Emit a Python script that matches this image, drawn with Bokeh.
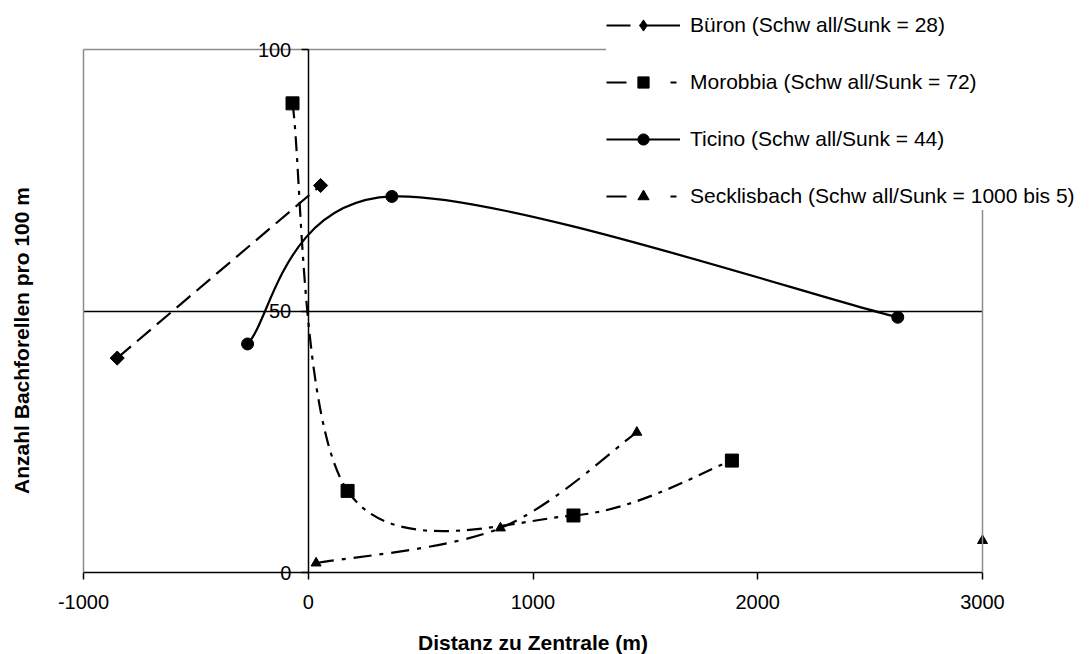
import math
from bokeh.plotting import figure
from bokeh.models import (LinearAxis, FixedTicker, Legend, LegendItem, Range1d,
                          ColumnDataSource, Label)
from bokeh.embed import file_html
from bokeh.resources import INLINE

# ---- data ----
x_ticks = [-1000, 0, 1000, 2000, 3000]
y_ticks = [0, 50, 100]

bueron_x = [-850, 55]
bueron_y = [41.0, 74.0]

morobbia_x = [-70, 175, 1180, 1885]
morobbia_y = [89.7, 15.6, 10.9, 21.4]

ticino_x = [-270, 372, 2623]
ticino_y = [43.7, 71.9, 48.8]

seck_x = [35, 855, 1462]
seck_y = [1.8, 8.5, 26.8]
seck_extra_x = [3000]
seck_extra_y = [6.1]

series_labels = [
    "Büron (Schw all/Sunk = 28)",
    "Morobbia (Schw all/Sunk = 72)",
    "Ticino (Schw all/Sunk = 44)",
    "Secklisbach (Schw all/Sunk = 1000 bis 5)",
]
x_title = "Distanz zu Zentrale (m)"
y_title = "Anzahl Bachforellen pro 100 m"

FONT = "Liberation Sans"
NAN = float("nan")

# ---- layout (pixels) ----
W, H = 1090, 654
AX_LEFT_PX, AX_RIGHT_PX = 83, 982      # x = -1000 .. 3000
AX_BOTTOM_PX, AX_TOP_PX = 572, 49      # y = 0 .. 100
sx_per = (AX_RIGHT_PX - AX_LEFT_PX) / (x_ticks[-1] - x_ticks[0])
sy_per = (AX_BOTTOM_PX - AX_TOP_PX) / (y_ticks[-1] - y_ticks[0])


def dx(px):
    return x_ticks[0] + (px - AX_LEFT_PX) / sx_per


def dy(py):
    return y_ticks[0] + (AX_BOTTOM_PX - py) / sy_per


def smooth_source(xs, ys):
    """Bezier control points (Excel-like smoothed line) built from the data points."""
    pts = list(zip(xs, ys))
    n = len(pts)
    d = dict(x0=[], y0=[], x1=[], y1=[], cx0=[], cy0=[], cx1=[], cy1=[])
    for i in range(n - 1):
        p0 = pts[i - 1] if i > 0 else pts[i]
        p1 = pts[i]
        p2 = pts[i + 1]
        p3 = pts[i + 2] if i + 2 < n else pts[i + 1]
        d["x0"].append(p1[0]); d["y0"].append(p1[1])
        d["x1"].append(p2[0]); d["y1"].append(p2[1])
        d["cx0"].append(p1[0] + (p2[0] - p0[0]) / 6.0)
        d["cy0"].append(p1[1] + (p2[1] - p0[1]) / 6.0)
        d["cx1"].append(p2[0] - (p3[0] - p1[0]) / 6.0)
        d["cy1"].append(p2[1] - (p3[1] - p1[1]) / 6.0)
    return ColumnDataSource(d)


p = figure(
    width=W, height=H,
    min_border_left=0, min_border_right=0, min_border_top=0, min_border_bottom=0,
    x_range=Range1d(dx(0), dx(W)), y_range=Range1d(dy(H), dy(0)),
    x_axis_location=None, y_axis_location=None,
    output_backend="svg", toolbar_location=None,
)
p.background_fill_color = "white"
p.border_fill_color = "white"
p.outline_line_color = None
p.xgrid.visible = False
p.ygrid.visible = False

xb = (x_ticks[0], x_ticks[-1])
yb = (y_ticks[0], y_ticks[-1])


def plain_line_axis(loc, bounds, color, width):
    return LinearAxis(
        fixed_location=loc, bounds=bounds, ticker=FixedTicker(ticks=[]),
        major_label_text_font_size="0px", major_tick_line_color=None,
        minor_tick_line_color=None, axis_line_color=color, axis_line_width=width,
    )


# chart frame (grey) and the 50 line (black)
p.add_layout(plain_line_axis(y_ticks[-1], xb, "#8c8c8c", 1.5), "above")
p.add_layout(plain_line_axis(x_ticks[0], yb, "#8c8c8c", 1.5), "left")
p.add_layout(plain_line_axis(x_ticks[-1], yb, "#8c8c8c", 1.5), "right")
p.add_layout(plain_line_axis(50, xb, "black", 1.5), "below")

# x axis along y = 0
xa = LinearAxis(
    fixed_location=0, bounds=xb, ticker=FixedTicker(ticks=x_ticks),
    major_label_overrides={t: str(t) for t in x_ticks},
    major_label_text_font=FONT, major_label_text_font_size="20px",
    major_label_text_color="black", major_label_standoff=15,
    major_tick_in=0, major_tick_out=7, major_tick_line_color="black", major_tick_line_width=1.5,
    minor_tick_line_color=None, axis_line_color="black", axis_line_width=1.5,
)
p.add_layout(xa, "below")

# y axis along x = 0
ya = LinearAxis(
    fixed_location=0, bounds=yb, ticker=FixedTicker(ticks=y_ticks),
    major_label_text_font=FONT, major_label_text_font_size="20px",
    major_label_text_color="black", major_label_standoff=10,
    major_tick_in=0, major_tick_out=7, major_tick_line_color="black", major_tick_line_width=1.5,
    minor_tick_line_color=None, axis_line_color="black", axis_line_width=1.5,
)
p.add_layout(ya, "left")

# axis titles
p.add_layout(Label(x=(x_ticks[0] + x_ticks[-1]) / 2, y=dy(642), text=x_title,
                   text_font=FONT, text_font_style="bold", text_font_size="21px",
                   text_color="black", text_align="center", text_baseline="middle"))
p.add_layout(Label(x=dx(21), y=dy(340), text=y_title, angle=math.pi / 2,
                   text_font=FONT, text_font_style="bold", text_font_size="21px",
                   text_color="black", text_align="center", text_baseline="middle"))

LW = 2.2

# Büron
p.line(bueron_x, bueron_y, line_color="black", line_width=LW, line_dash="18 8")
p.scatter(bueron_x, bueron_y, marker="square", angle=math.pi / 4, size=10, color="black")
b_leg = p.line([NAN], [NAN], line_color="black", line_width=LW, line_dash="24 9 41 20")
b_leg_pt = p.scatter([NAN], [NAN], marker="diamond", size=14, color="black")

# Morobbia
p.bezier(x0="x0", y0="y0", x1="x1", y1="y1", cx0="cx0", cy0="cy0", cx1="cx1", cy1="cy1",
         source=smooth_source(morobbia_x, morobbia_y), line_color="black", line_width=LW,
         line_dash="15 7 4 7")
m_leg = p.line([NAN], [NAN], line_color="black", line_width=LW, line_dash="20 44 6 10")
m_pts = p.scatter(morobbia_x, morobbia_y, marker="square", size=13, color="black")

# Ticino
p.bezier(x0="x0", y0="y0", x1="x1", y1="y1", cx0="cx0", cy0="cy0", cx1="cx1", cy1="cy1",
         source=smooth_source(ticino_x, ticino_y), line_color="black", line_width=LW)
t_leg = p.line([NAN], [NAN], line_color="black", line_width=LW)
t_pts = p.scatter(ticino_x, ticino_y, marker="circle", size=12, color="black")

# Secklisbach
p.bezier(x0="x0", y0="y0", x1="x1", y1="y1", cx0="cx0", cy0="cy0", cx1="cx1", cy1="cy1",
         source=smooth_source(seck_x, seck_y), line_color="black", line_width=LW,
         line_dash="18 8 4 8")
s_leg = p.line([NAN], [NAN], line_color="black", line_width=LW, line_dash="20 44 6 10")
s_pts = p.scatter(seck_x, seck_y, marker="triangle", size=10, color="black")
p.scatter(seck_extra_x, seck_extra_y, marker="triangle", size=10, color="black")

legend = Legend(
    items=[
        LegendItem(label=series_labels[0], renderers=[b_leg, b_leg_pt]),
        LegendItem(label=series_labels[1], renderers=[m_leg, m_pts]),
        LegendItem(label=series_labels[2], renderers=[t_leg, t_pts]),
        LegendItem(label=series_labels[3], renderers=[s_leg, s_pts]),
    ],
    location=(606, H - 210),
    orientation="vertical",
    glyph_width=74, glyph_height=28, label_height=28,
    spacing=29, padding=12, label_standoff=10, margin=0,
    label_text_font=FONT, label_text_font_size="21px", label_text_color="black",
    background_fill_color="white", background_fill_alpha=1.0,
    border_line_color=None,
)
p.add_layout(legend, "center")

open("out.html", "w").write(file_html(p, INLINE))
